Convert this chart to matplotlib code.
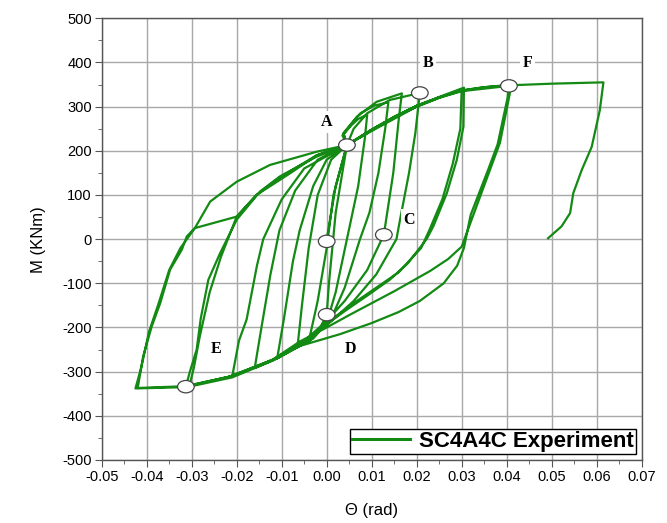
import numpy as np
import matplotlib
matplotlib.use("Agg")
import matplotlib.pyplot as plt
from matplotlib.patches import Ellipse
from matplotlib.ticker import MultipleLocator, FuncFormatter

# hysteresis cycles, (theta [rad], M [kNm])
cycle_1 = [(0.0, 0), (0.002, 120), (0.0045, 213), (0.002, 60), (0.0005, -100), (0.0, -171),
           (-0.002, -212), (-0.004, -232), (-0.002, -140), (0.0, -20), (0.0015, 100), (0.0045, 213)]
cycle_2 = [(0.0045, 213), (0.0035, 235), (0.0055, 258), (0.007, 272), (0.009, 282),
           (0.0085, 230), (0.007, 120), (0.0045, 0), (0.002, -120), (0.0, -190), (-0.003, -225),
           (-0.0065, -245), (-0.0055, -150), (-0.004, -20), (-0.002, 100), (0.001, 180), (0.0045, 213)]
cycle_3 = [(0.0045, 213), (0.0037, 240), (0.0055, 262), (0.0075, 285), (0.0105, 302), (0.0137, 310),
           (0.013, 250), (0.0115, 150), (0.0095, 60), (0.0074, 0), (0.004, -110), (0.001, -180),
           (-0.003, -220), (-0.006, -242), (-0.011, -270), (-0.0095, -180), (-0.0075, -50),
           (-0.006, 20), (-0.003, 120), (0.0, 180), (0.0045, 213)]
cycle_4 = [(0.0045, 213), (0.0038, 238), (0.0067, 277), (0.0111, 311), (0.0167, 330),
           (0.016, 270), (0.0148, 150), (0.0127, 10), (0.009, -70), (0.004, -140), (0.0, -185),
           (-0.006, -240), (-0.011, -270), (-0.016, -292), (-0.0145, -200), (-0.0125, -80),
           (-0.0105, 20), (-0.007, 110), (-0.002, 180), (0.0045, 213)]
cycle_5 = [(0.0045, 213), (0.006, 250), (0.009, 285), (0.014, 315), (0.0207, 331),
           (0.0197, 240), (0.0183, 150), (0.0163, 44), (0.0155, 0), (0.011, -80), (0.006, -140),
           (0.0, -195), (-0.006, -240), (-0.012, -273), (-0.021, -311), (-0.0195, -230),
           (-0.0178, -182), (-0.0155, -60), (-0.0141, 0), (-0.01, 90), (-0.005, 160), (0.0045, 213)]
cycle_6 = [(0.0045, 213), (0.01, 248), (0.015, 277), (0.02, 302), (0.025, 322), (0.0305, 343),
           (0.0304, 255), (0.0289, 179), (0.0267, 104), (0.0237, 29), (0.0222, 0), (0.018, -55),
           (0.014, -92), (0.009, -128), (0.004, -163), (-0.001, -200), (-0.006, -237),
           (-0.012, -273), (-0.0215, -311), (-0.0313, -334), (-0.0304, -300), (-0.0289, -250),
           (-0.028, -180), (-0.0263, -92), (-0.0237, -32), (-0.02, 44), (-0.0148, 108),
           (-0.0104, 142), (-0.0022, 187), (0.0045, 213)]
cycle_7 = [(0.0045, 213), (0.01, 245), (0.02, 300), (0.025, 320), (0.03, 338), (0.0297, 250),
           (0.028, 170), (0.0257, 90), (0.0228, 20), (0.021, -20), (0.016, -75), (0.012, -103),
           (0.007, -138), (0.002, -175), (-0.006, -240), (-0.012, -274), (-0.021, -310),
           (-0.0305, -332), (-0.0295, -290), (-0.0282, -220), (-0.026, -120), (-0.0235, -40),
           (-0.02, 51), (-0.0156, 100), (-0.0104, 140), (-0.0022, 190), (0.0045, 213)]
cycle_8 = [(0.0045, 213), (0.01, 248), (0.015, 276), (0.02, 302), (0.025, 321), (0.03, 336),
           (0.035, 344), (0.0405, 349), (0.0407, 330), (0.0385, 218), (0.0363, 157),
           (0.0325, 51), (0.030, -17), (0.027, -45), (0.023, -72), (0.019, -95), (0.015, -118),
           (0.01, -145), (0.005, -172), (0.0, -200), (-0.006, -232), (-0.012, -273),
           (-0.0215, -311), (-0.0315, -333), (-0.042, -337), (-0.0408, -266), (-0.0389, -198),
           (-0.037, -145), (-0.0348, -69), (-0.0322, -24), (-0.0311, 6), (-0.0293, 25),
           (-0.0259, 85), (-0.02, 130), (-0.0126, 168), (-0.0022, 198), (0.0045, 213)]
cycle_9 = [(0.0045, 213), (0.01, 246), (0.015, 275), (0.02, 300), (0.025, 320), (0.03, 335),
           (0.0405, 347), (0.0402, 320), (0.038, 215), (0.0358, 155), (0.032, 55),
           (0.0305, -20), (0.029, -60), (0.026, -100), (0.0207, -140), (0.016, -165),
           (0.01, -190), (0.003, -215), (-0.006, -242), (-0.012, -275), (-0.021, -313),
           (-0.031, -335), (-0.0425, -338), (-0.0412, -290), (-0.0395, -210), (-0.0375, -150),
           (-0.035, -70), (-0.0325, -20), (-0.0293, 25), (-0.02, 51), (-0.0156, 100),
           (-0.008, 150), (-0.0022, 190), (0.0045, 213)]
cycle_10 = [(0.0045, 213), (0.01, 248), (0.015, 277), (0.02, 302), (0.025, 321), (0.03, 337),
            (0.035, 344), (0.04, 348), (0.05, 352), (0.0615, 355), (0.0607, 292),
            (0.0589, 209), (0.0567, 157), (0.0548, 104), (0.0541, 59), (0.0522, 29),
            (0.0492, 2)]

cycles = [cycle_1, cycle_2, cycle_3, cycle_4, cycle_5, cycle_6, cycle_7, cycle_8, cycle_9, cycle_10]

# white circles on the curve and their letters
marker_theta = [0.0045, 0.0207, 0.0405, 0.0127, 0.0, 0.0, -0.0313]
marker_m = [213, 331, 347, 10, -5, -171, -334]
label_text = ["A", "B", "F", "C", "E", "D"]
label_theta = [0.0, 0.0225, 0.0447, 0.0183, -0.0246, 0.0053]
label_m = [265, 399, 399, 44, -248, -248]

plt.rcParams['font.family'] = ['Liberation Sans', 'DejaVu Sans']
plt.rcParams['axes.unicode_minus'] = False

fig = plt.figure(figsize=(6.67, 5.23), dpi=100)
ax = fig.add_axes([0.1525, 0.1205, 0.8095, 0.8445])

th = []
mm = []
for c in cycles:
    for p in c:
        th.append(p[0])
        mm.append(p[1])
ax.plot(th, mm, color='#138a13', lw=1.6, solid_joinstyle='round', zorder=3,
        label='SC4A4C Experiment')

for x, y in zip(marker_theta, marker_m):
    ax.add_patch(Ellipse((x, y), 0.0037, 28, facecolor='white', edgecolor='#444444',
                         lw=0.9, zorder=5))

for t, x, y in zip(label_text, label_theta, label_m):
    ax.text(x, y, t, family='Liberation Serif', fontweight='bold', fontsize=11.5,
            ha='center', va='center', zorder=6,
            bbox=dict(facecolor='white', edgecolor='none', pad=2))

ax.set_xlim(-0.05, 0.07)
ax.set_ylim(-500, 500)
ax.xaxis.set_major_locator(MultipleLocator(0.01))
ax.xaxis.set_minor_locator(MultipleLocator(0.005))
ax.yaxis.set_major_locator(MultipleLocator(100))
ax.yaxis.set_minor_locator(MultipleLocator(50))
ax.xaxis.set_major_formatter(FuncFormatter(lambda v, p: '%.2f' % (round(v, 3) + 0.0)))
ax.grid(True, which='major', color='#a8a8a8', lw=1.0, zorder=0)
ax.set_axisbelow(True)
ax.tick_params(which='both', direction='out', color='#555555', top=False, right=False)
ax.tick_params(which='major', length=5, labelsize=10.5, pad=2)
ax.tick_params(which='minor', length=3)
for s in ax.spines.values():
    s.set_color('#555555')
    s.set_linewidth(1.0)

ax.set_xlabel('Θ (rad)', fontsize=12, labelpad=14)
ax.set_ylabel('M (KNm)', fontsize=12, labelpad=12)

leg = ax.legend(loc='lower right', prop={'weight': 'bold', 'size': 16}, fancybox=False,
                edgecolor='black', framealpha=1, handlelength=2.6, borderpad=0.1,
                borderaxespad=0.25, handletextpad=0.4)
leg.get_frame().set_linewidth(1.0)
for ln in leg.get_lines():
    ln.set_linewidth(2.2)

fig.savefig('out.png', dpi=100)
